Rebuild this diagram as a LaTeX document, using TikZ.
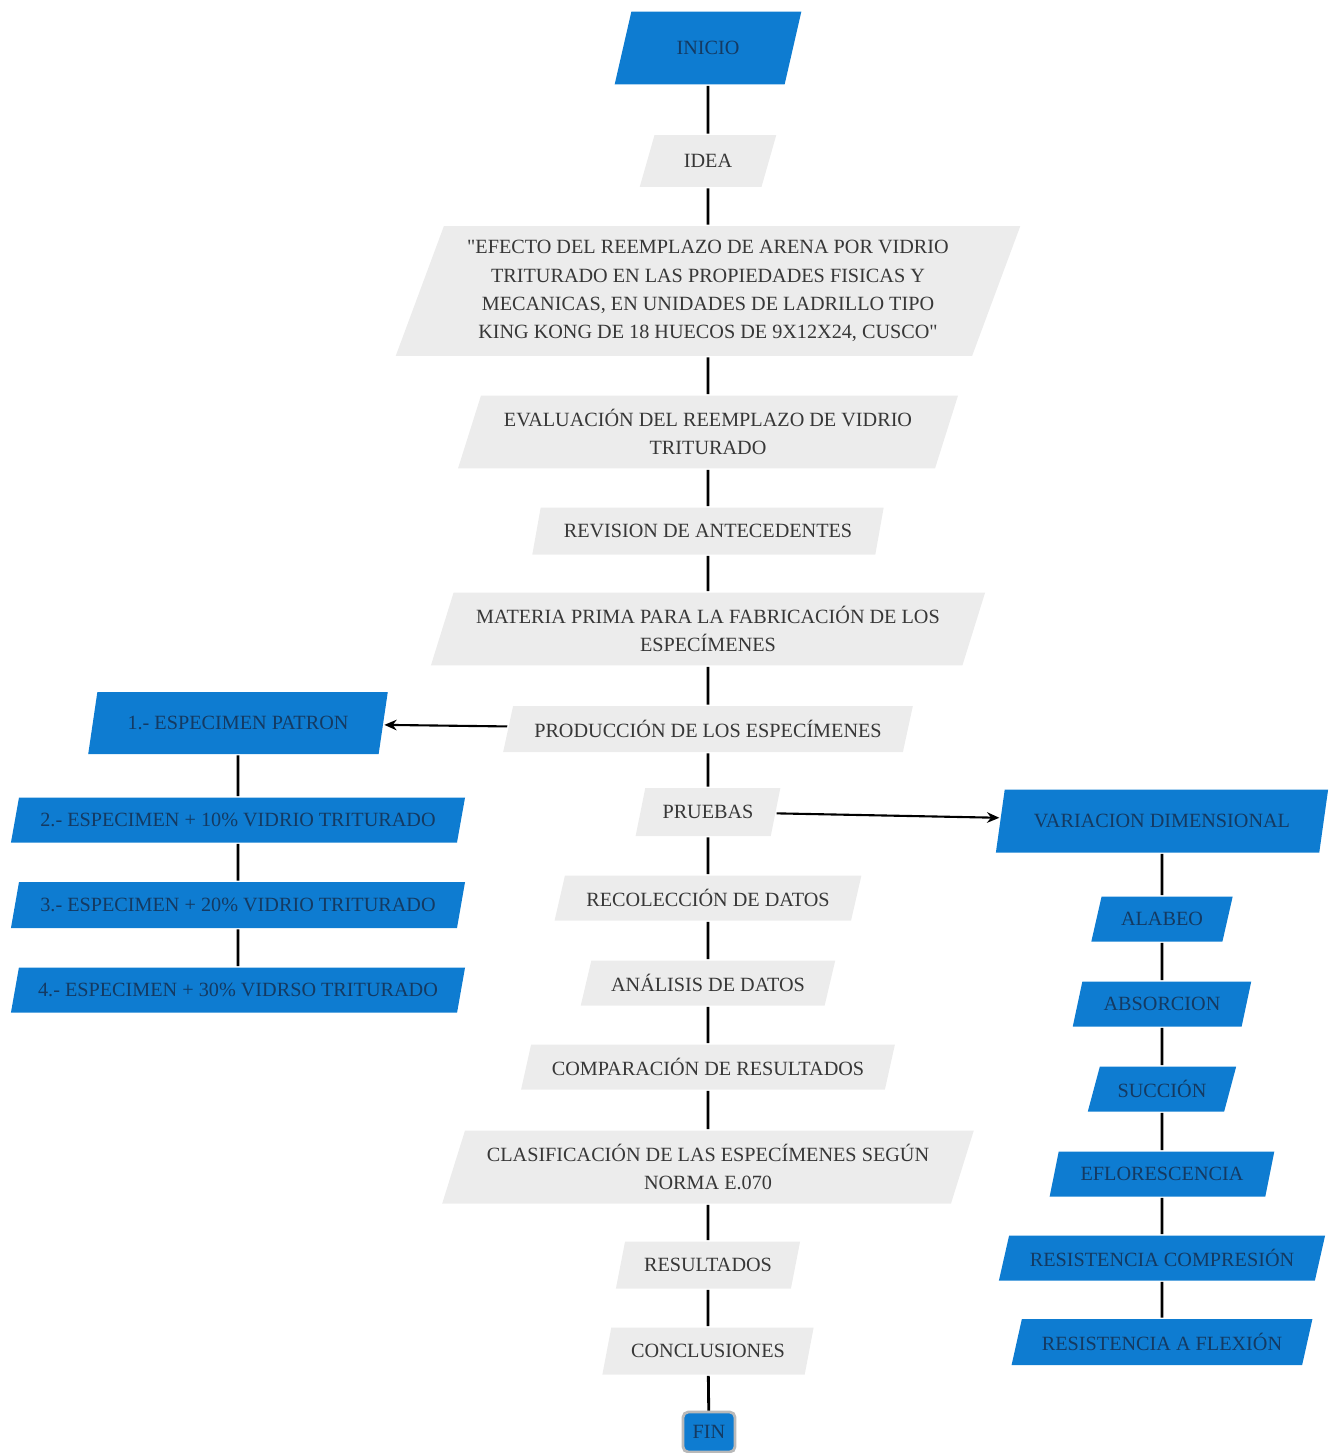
\documentclass[tikz,border=0pt]{standalone}
\usepackage{fontspec}
\setmainfont{Liberation Serif}
\usetikzlibrary{shapes.geometric,arrows.meta}
\definecolor{flowblue}{RGB}{14,124,209}
\definecolor{flowgrey}{RGB}{236,236,236}
\definecolor{bluetext}{RGB}{20,58,98}
\definecolor{greytext}{RGB}{55,55,55}
\tikzset{
  >=Stealth,
  para/.style={trapezium, trapezium left angle=67, trapezium right angle=113,
    trapezium stretches=true, inner sep=1pt, align=center,
    font=\fontsize{11.5}{16}\selectfont},
  bluebox/.style={para, fill=flowblue, text=bluetext},
  greybox/.style={para, fill=flowgrey, text=greytext},
}

\begin{document}
\begin{tikzpicture}[x=0.02cm, y=-0.02cm, line width=1.6pt]
\useasboundingbox (0,0) rectangle (1328,1453);
% central column
\node[bluebox, minimum width=3.74cm, minimum height=1.46cm] (inicio) at (708,48) {INICIO};
\node[greybox, minimum width=2.74cm, minimum height=1.04cm] (idea) at (708,161) {IDEA};
\node[greybox, minimum width=12.54cm, minimum height=2.6cm] (tema) at (708,291)
  {\textquotedbl EFECTO DEL REEMPLAZO DE ARENA POR VIDRIO\\ TRITURADO EN LAS PROPIEDADES FISICAS Y\\ MECANICAS, EN UNIDADES DE LADRILLO TIPO\\ KING KONG DE 18 HUECOS DE 9X12X24, CUSCO\textquotedbl};
\node[greybox, minimum width=10.04cm, minimum height=1.46cm] (evaluacion) at (708,432)
  {EVALUACIÓN DEL REEMPLAZO DE VIDRIO\\ TRITURADO};
\node[greybox, minimum width=7.04cm, minimum height=0.94cm] (revision) at (708,531) {REVISION DE ANTECEDENTES};
\node[greybox, minimum width=11.1cm, minimum height=1.46cm] (materia) at (708,629)
  {MATERIA PRIMA PARA LA FABRICACIÓN DE LOS\\ ESPECÍMENES};
\node[greybox, minimum width=8.2cm, minimum height=0.92cm] (produccion) at (708,729) {PRODUCCIÓN DE LOS ESPECÍMENES};
\node[greybox, minimum width=2.9cm, minimum height=0.96cm] (pruebas) at (708,812) {PRUEBAS};
\node[greybox, minimum width=6.14cm, minimum height=0.9cm] (recoleccion) at (708,898) {RECOLECCIÓN DE DATOS};
\node[greybox, minimum width=5.1cm, minimum height=0.9cm] (analisis) at (708,983) {ANÁLISIS DE DATOS};
\node[greybox, minimum width=7.5cm, minimum height=0.9cm] (comparacion) at (708,1067) {COMPARACIÓN DE RESULTADOS};
\node[greybox, minimum width=10.64cm, minimum height=1.46cm] (clasificacion) at (708,1167)
  {CLASIFICACIÓN DE LAS ESPECÍMENES SEGÚN\\ NORMA E.070};
\node[greybox, minimum width=3.7cm, minimum height=0.94cm] (resultados) at (708,1265) {RESULTADOS};
\node[greybox, minimum width=4.24cm, minimum height=0.94cm] (conclusiones) at (708,1351) {CONCLUSIONES};
\node[fill=flowblue, draw=gray!55, rounded corners=3pt, text=bluetext, inner sep=1pt,
  minimum width=1.04cm, minimum height=0.8cm, font=\fontsize{11.5}{14}\selectfont] (fin) at (709,1432) {FIN};

% left column
\node[bluebox, minimum width=6cm, minimum height=1.24cm] (patron) at (238,723) {1.- ESPECIMEN PATRON};
\node[bluebox, minimum width=9.1cm, minimum height=0.9cm] (diez) at (238,820) {2.- ESPECIMEN + 10\% VIDRIO TRITURADO};
\node[bluebox, minimum width=9.1cm, minimum height=0.92cm] (veinte) at (238,905) {3.- ESPECIMEN + 20\% VIDRIO TRITURADO};
\node[bluebox, minimum width=9.1cm, minimum height=0.9cm] (treinta) at (238,990) {4.- ESPECIMEN + 30\% VIDRSO TRITURADO};

% right column
\node[bluebox, minimum width=6.66cm, minimum height=1.26cm] (variacion) at (1162,821) {VARIACION DIMENSIONAL};
\node[bluebox, minimum width=2.84cm, minimum height=0.9cm] (alabeo) at (1162,919) {ALABEO};
\node[bluebox, minimum width=3.58cm, minimum height=0.9cm] (absorcion) at (1162,1004) {ABSORCION};
\node[bluebox, minimum width=2.98cm, minimum height=0.9cm] (succion) at (1162,1089) {SUCCIÓN};
\node[bluebox, minimum width=4.5cm, minimum height=0.9cm] (eflorescencia) at (1162,1174) {EFLORESCENCIA};
\node[bluebox, minimum width=6.54cm, minimum height=0.9cm] (compresion) at (1162,1258) {RESISTENCIA COMPRESIÓN};
\node[bluebox, minimum width=6.02cm, minimum height=0.92cm] (flexion) at (1162,1342) {RESISTENCIA A FLEXIÓN};

% connectors
\draw (inicio) -- (idea) -- (tema) -- (evaluacion) -- (revision) -- (materia) -- (produccion)
  -- (pruebas) -- (recoleccion) -- (analisis) -- (comparacion) -- (clasificacion)
  -- (resultados) -- (conclusiones) -- (fin);
\draw (patron) -- (diez) -- (veinte) -- (treinta);
\draw (variacion) -- (alabeo) -- (absorcion) -- (succion) -- (eflorescencia) -- (compresion) -- (flexion);
\draw[-{Stealth[length=7pt,width=6pt]}, line width=1.2pt] (produccion) -- (patron);
\draw[-{Stealth[length=7pt,width=6pt]}, line width=1.2pt] (pruebas) -- (variacion);
\end{tikzpicture}
\end{document}
